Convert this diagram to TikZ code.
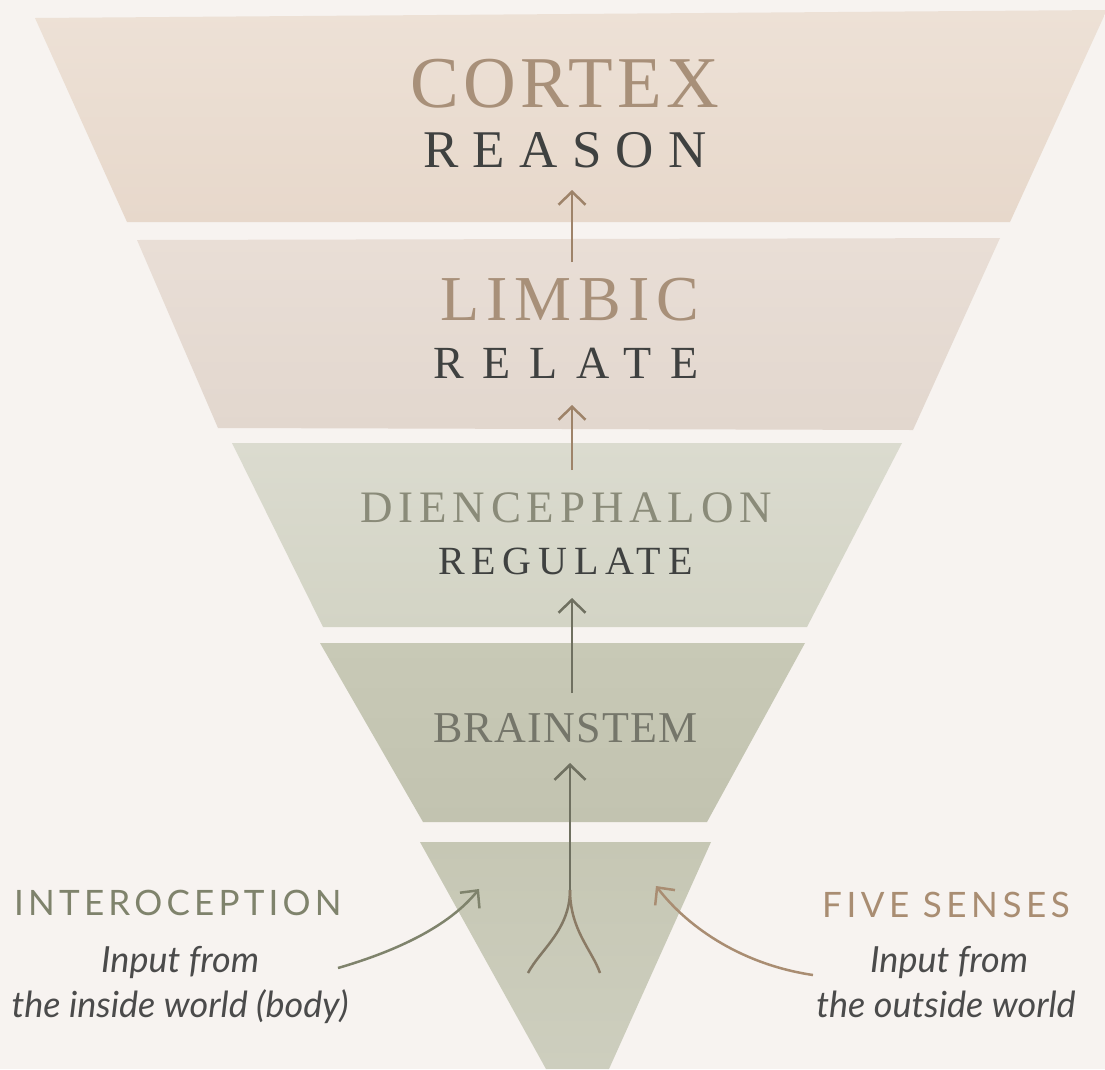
\documentclass[tikz,border=0pt]{standalone}
\usepackage{fontspec}
\setmainfont{Liberation Serif}
\newfontfamily\srf{Liberation Serif}
\newfontfamily\lato{Lato}
\usetikzlibrary{arrows.meta}
\definecolor{bg}{HTML}{F7F3F0}
\definecolor{bandA}{HTML}{EDE1D6}
\definecolor{bandAb}{HTML}{E7D8CB}
\definecolor{bandB}{HTML}{E9DED6}
\definecolor{bandBb}{HTML}{E2D7CE}
\definecolor{bandC}{HTML}{DBDBCF}
\definecolor{bandCb}{HTML}{D3D4C5}
\definecolor{bandD}{HTML}{C8C9B6}
\definecolor{bandDb}{HTML}{C2C3B0}
\definecolor{bandE}{HTML}{C6C7B4}
\definecolor{bandEb}{HTML}{CDCEBE}
\definecolor{tan}{HTML}{A89079}
\definecolor{dark}{HTML}{3F4140}
\definecolor{olive}{HTML}{8A8B79}
\definecolor{oliveD}{HTML}{75766A}
\definecolor{interc}{HTML}{7F836C}
\definecolor{fivec}{HTML}{A98D72}
\definecolor{ital}{HTML}{4B4B4B}
\definecolor{arrtan}{HTML}{9E8369}
\definecolor{arrgr}{HTML}{6F7060}
\tikzset{
  lbl/.style={inner sep=0pt, anchor=base west},
  itl/.style={inner sep=0pt, anchor=base, text=ital},
  upar/.style={line width=2.5pt, -{Straight Barb[length=13pt,width=27pt,line width=2.5pt]}},
  bigar/.style={line width=2.6pt, -{Straight Barb[length=15pt,width=31pt,line width=2.6pt]}},
  sidear/.style={line width=2.5pt, -{Straight Barb[length=13pt,width=25pt,line width=2.5pt]}},
  forkline/.style={line width=2.5pt},
}
\begin{document}
\begin{tikzpicture}[x=1pt,y=-1pt]
\useasboundingbox (0,0) rectangle (1105,1069);
\fill[bg] (0,0) rectangle (1105,1069);
% bands
\shade[top color=bandA, bottom color=bandAb] (35,18) -- (1105,10) -- (1105,14) -- (1010,222) -- (127,222) -- cycle;
\shade[top color=bandB, bottom color=bandBb] (137,240) -- (1000,238) -- (913,430) -- (218,428) -- cycle;
\shade[top color=bandC, bottom color=bandCb] (232,443) -- (902,443) -- (807,627) -- (323,627) -- cycle;
\shade[top color=bandD, bottom color=bandDb] (320,643) -- (805,643) -- (707,822) -- (423,822) -- cycle;
\shade[top color=bandE, bottom color=bandEb] (420,842) -- (711,842) -- (609,1069) -- (546,1069) -- cycle;
% labels
\node[lbl, text=tan] (cortex) at (410,107) {\fontsize{73}{80}\srf\addfontfeatures{LetterSpace=6}CORTEX};
\node[lbl, text=dark] (reason) at (423,167) {\fontsize{53}{60}\srf\addfontfeatures{LetterSpace=27}REASON};
\node[lbl, text=tan] (limbic) at (440,320) {\fontsize{64}{70}\srf\addfontfeatures{LetterSpace=11}LIMBIC};
\node[lbl, text=dark] (relate) at (433,378) {\fontsize{46}{50}\srf\addfontfeatures{LetterSpace=41}RELATE};
\node[lbl, text=olive] (dien) at (360,522) {\fontsize{45}{50}\srf\addfontfeatures{LetterSpace=13}DIENCEPHALON};
\node[lbl, text=dark] (regulate) at (438,574) {\fontsize{40}{44}\srf\addfontfeatures{LetterSpace=17}REGULATE};
\node[lbl, text=oliveD] (brain) at (433,742) {\fontsize{44}{50}\srf\addfontfeatures{LetterSpace=3}BRAINSTEM};
\node[lbl, text=interc] (intero) at (14,915) {\fontsize{35}{40}\lato\addfontfeatures{LetterSpace=12}INTEROCEPTION};
\node[lbl, text=fivec] (five) at (822,917) {\fontsize{35}{40}\lato\addfontfeatures{LetterSpace=13}FIVE SENSES};
\node[itl] (inl1) at (180,972) {\fontsize{36}{40}\lato\itshape Input from};
\node[itl] (inl2) at (180,1017) {\fontsize{36}{40}\lato\itshape the inside world (body)};
\node[itl] (outl1) at (949,972) {\fontsize{36}{40}\lato\itshape Input from};
\node[itl] (outl2) at (946,1017) {\fontsize{36}{40}\lato\itshape the outside world};
% arrow coordinates
\coordinate (a1s) at (572,262);
\coordinate (a1e) at (572,190);
\coordinate (a2s) at (572,470);
\coordinate (a2e) at (572,405);
\coordinate (a3s) at (572,693);
\coordinate (a3e) at (572,598);
\coordinate (split) at (570,890);
\coordinate (a4e) at (570,763);
\coordinate (fl) at (528,973);
\coordinate (fr) at (600,973);
\coordinate (is) at (338,968);
\coordinate (ie) at (479,889);
\coordinate (fs) at (813,975);
\coordinate (fe) at (656,886);
% arrows
\draw[upar, arrtan] (a1s) -- (a1e);
\draw[upar, arrtan] (a2s) -- (a2e);
\draw[upar, arrgr] (a3s) -- (a3e);
\draw[bigar, arrgr] (split) -- (a4e);
\draw[forkline, arrgr!60!arrtan] (split) .. controls (570,930) and (540,950) .. (fl);
\draw[forkline, arrgr!40!arrtan] (split) .. controls (570,930) and (592,950) .. (fr);
\draw[sidear, interc] (is) .. controls (400,950) and (450,925) .. (ie);
\draw[sidear, fivec] (fs) .. controls (745,965) and (690,930) .. (fe);
\end{tikzpicture}
\end{document}
